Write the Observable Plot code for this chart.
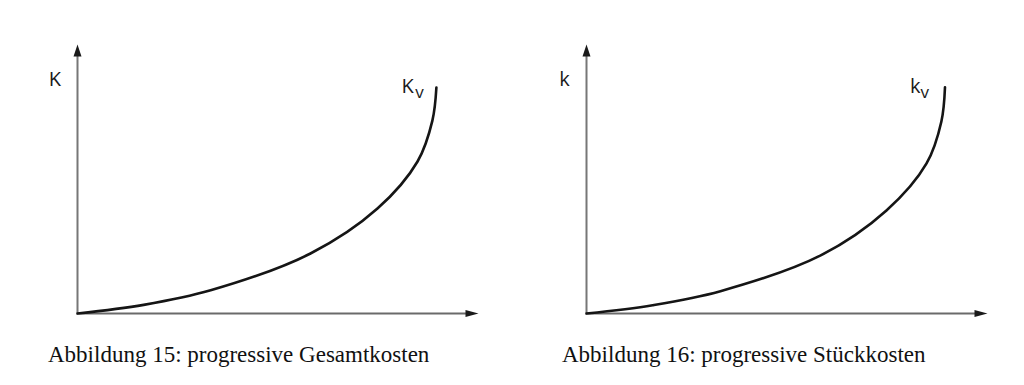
<!DOCTYPE html>
<html>
<head>
<meta charset="utf-8">
<script src="https://cdn.jsdelivr.net/npm/d3@7"></script>
<script src="https://cdn.jsdelivr.net/npm/@observablehq/plot@0.6"></script>
<style>
  html, body { margin: 0; padding: 0; background: #fff; }
  #root { position: relative; width: 1024px; height: 385px; overflow: hidden; }
  .panel { position: absolute; top: 0; width: 512px; height: 385px; }
  .caption { position: absolute; font-family: "Liberation Serif", "Times New Roman", serif; font-size: 23px; line-height: 23px; color: #111; white-space: nowrap; }
</style>
</head>
<body>
<div id="root"></div>
<script>
// Abbildung 15: progressive Gesamtkosten (K_v)
const totalCostX = [0, 16.5, 33.2, 58.1, 74.8, 84.8, 88.5, 89.5];
const totalCostY = [0, 3.2, 8.6, 22.3, 39.0, 56.5, 71.7, 84.0];
// Abbildung 16: progressive Stückkosten (k_v)
const unitCostX = [0, 16.5, 33.4, 58.4, 74.8, 84.8, 88.5, 89.4];
const unitCostY = [0, 3.1, 8.3, 21.6, 38.3, 55.8, 71.4, 84.1];

const axisLabels = ["K", "k"];
const curveLabels = ["K", "k"];
const curveSubscripts = ["v", "v"];
const captions = ["Abbildung 15: progressive Gesamtkosten", "Abbildung 16: progressive Stückkosten"];

const arrowUp = {draw(ctx) { ctx.moveTo(0, 0); ctx.lineTo(4, 12); ctx.lineTo(-4, 12); ctx.closePath(); }};
const arrowRight = {draw(ctx) { ctx.moveTo(0, 0); ctx.lineTo(-13, -3.5); ctx.lineTo(-13, 3.5); ctx.closePath(); }};

function panel(xs, ys, axisLabel, curveLabel, sub, opts) {
  const pts = xs.map((x, i) => ({x, y: ys[i]}));
  const font = {fontFamily: "'Open Sans', 'DejaVu Sans', sans-serif", fill: "#1a1a1a", fontSize: 20, textAnchor: "start", lineAnchor: "bottom"};
  return Plot.plot({
    width: 512,
    height: 330,
    marginLeft: opts.ml,
    marginRight: opts.mr,
    marginTop: 44,
    marginBottom: 17,
    x: {domain: [0, 100], axis: null},
    y: {domain: [0, 100], axis: null},
    style: {background: "#fff", overflow: "visible"},
    marks: [
      Plot.ruleX([0], {y1: 0, y2: 97, stroke: "#777", strokeWidth: 2}),
      Plot.ruleY([0], {x1: 0, x2: 97, stroke: "#6a6a6a", strokeWidth: 2}),
      Plot.dot([{x: 0, y: 100}], {x: "x", y: "y", symbol: arrowUp, fill: "#1a1a1a", stroke: "none"}),
      Plot.dot([{x: 100, y: 0}], {x: "x", y: "y", symbol: arrowRight, fill: "#1a1a1a", stroke: "none"}),
      Plot.line(pts, {x: "x", y: "y", curve: "catmull-rom", stroke: "#151515", strokeWidth: 2.6}),
      Plot.text([axisLabel], {x: opts.ax, y: 84.4, text: d => d, ...font}),
      Plot.text([curveLabel], {x: opts.cx, y: 81.9, text: d => d, ...font}),
      Plot.text([sub], {x: opts.sx, y: 80.0, text: d => d, ...font, fontSize: 17})
    ]
  });
}

const root = document.getElementById("root");
const configs = [
  {xs: totalCostX, ys: totalCostY, ml: 77, mr: 34, left: 0, ax: -7.2, cx: 80.8, sx: 84.2, capLeft: 48},
  {xs: unitCostX, ys: unitCostY, ml: 74, mr: 37, left: 512, ax: -6.8, cx: 80.7, sx: 83.3, capLeft: 50}
];
configs.forEach((c, i) => {
  const div = document.createElement("div");
  div.className = "panel";
  div.style.left = c.left + "px";
  div.appendChild(panel(c.xs, c.ys, axisLabels[i], curveLabels[i], curveSubscripts[i], c));
  const cap = document.createElement("div");
  cap.className = "caption";
  cap.style.left = c.capLeft + "px";
  cap.style.top = "343px";
  cap.textContent = captions[i];
  div.appendChild(cap);
  root.appendChild(div);
});
</script>
</body>
</html>
